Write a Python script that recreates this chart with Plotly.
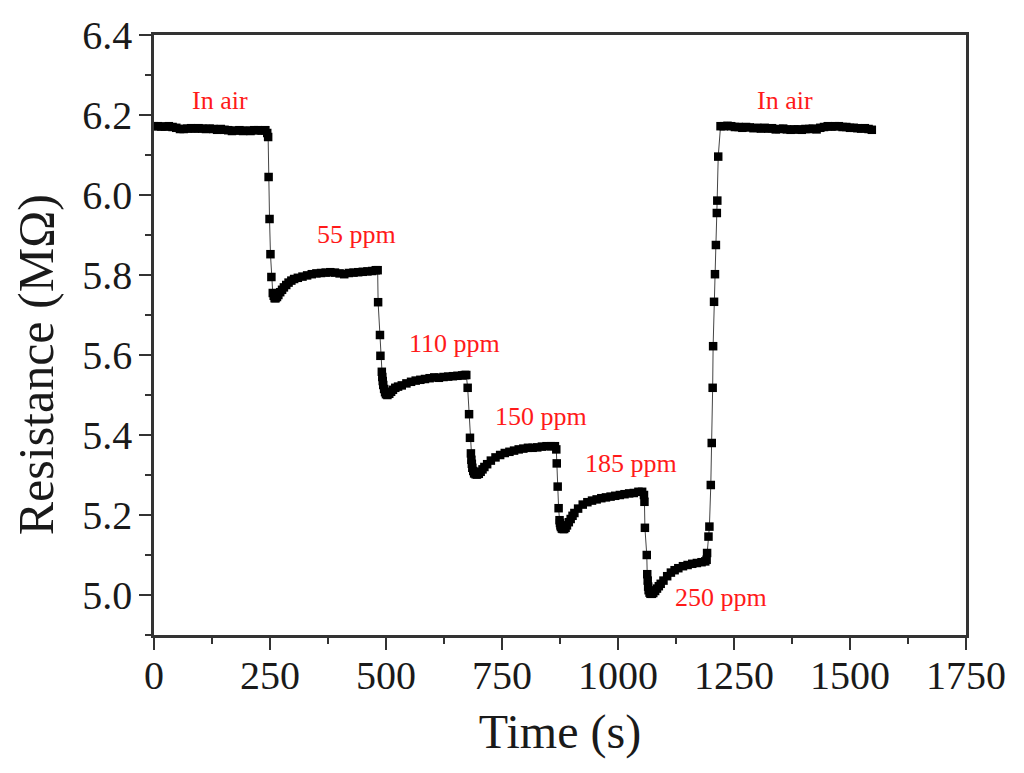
import plotly.graph_objects as go

# values, one pair of lists per stage
t_air1 = [0, 8, 16, 24, 32, 40, 48, 56, 64, 72, 80, 88, 96, 104, 112, 120, 128, 136, 144, 152, 160,
          168, 176, 184, 192, 200, 208, 216, 224, 232, 240, 244, 246]
r_air1 = [6.172, 6.172, 6.171, 6.171, 6.172, 6.170, 6.168, 6.165, 6.165, 6.166, 6.167, 6.166, 6.167,
          6.166, 6.165, 6.166, 6.165, 6.163, 6.165, 6.163, 6.162, 6.160, 6.161, 6.162, 6.160, 6.161,
          6.160, 6.162, 6.162, 6.161, 6.162, 6.155, 6.145]

t_55 = [247, 249, 251, 253, 256, 258, 260, 262, 265, 268, 272, 276, 280, 285, 290, 296, 302, 310, 320,
        330, 340, 350, 360, 370, 380, 390, 400, 410, 420, 430, 440, 450, 460, 470, 478, 482]
r_55 = [6.045, 5.94, 5.852, 5.795, 5.755, 5.748, 5.742, 5.742, 5.745, 5.750, 5.757, 5.763, 5.769, 5.775,
        5.781, 5.786, 5.790, 5.793, 5.796, 5.799, 5.802, 5.804, 5.805, 5.806, 5.807, 5.806, 5.804,
        5.802, 5.805, 5.806, 5.807, 5.808, 5.809, 5.810, 5.812, 5.812]

t_110 = [483, 487, 488, 491, 492, 493, 494, 496, 498, 500, 503, 507, 511, 515, 520, 526, 534, 544, 554,
         564, 574, 584, 594, 604, 614, 624, 634, 644, 654, 664, 670, 673]
r_110 = [5.732, 5.65, 5.598, 5.558, 5.545, 5.535, 5.525, 5.515, 5.507, 5.502, 5.500, 5.503, 5.508, 5.513,
         5.518, 5.521, 5.524, 5.529, 5.533, 5.536, 5.538, 5.540, 5.542, 5.544, 5.543, 5.545, 5.546,
         5.547, 5.548, 5.549, 5.550, 5.550]

t_150 = [676, 679, 681, 683, 684, 685, 686, 688, 690, 693, 696, 700, 704, 708, 712, 718, 726, 736, 746,
         756, 766, 776, 786, 796, 806, 816, 826, 836, 846, 856, 864, 867]
r_150 = [5.518, 5.452, 5.393, 5.354, 5.338, 5.328, 5.318, 5.310, 5.304, 5.302, 5.301, 5.303, 5.308, 5.314,
         5.320, 5.327, 5.336, 5.344, 5.350, 5.355, 5.358, 5.361, 5.364, 5.366, 5.368, 5.368, 5.369,
         5.371, 5.372, 5.372, 5.372, 5.364]

t_185 = [868, 870, 872, 874, 875, 876, 877, 879, 881, 884, 887, 890, 894, 898, 902, 906, 914, 924, 934,
         944, 954, 964, 974, 984, 994, 1004, 1014, 1024, 1034, 1044, 1052, 1056]
r_185 = [5.329, 5.271, 5.217, 5.187, 5.180, 5.174, 5.170, 5.166, 5.165, 5.165, 5.168, 5.174, 5.182, 5.190,
         5.198, 5.205, 5.216, 5.226, 5.232, 5.236, 5.239, 5.242, 5.244, 5.246, 5.248, 5.250, 5.252,
         5.254, 5.255, 5.258, 5.258, 5.250]

t_250 = [1057, 1058, 1062, 1063, 1064, 1065, 1066, 1068, 1070, 1073, 1076, 1080, 1084, 1088, 1092, 1098,
         1106, 1114, 1122, 1130, 1140, 1150, 1160, 1170, 1180, 1188, 1191]
r_250 = [5.233, 5.168, 5.10, 5.052, 5.036, 5.021, 5.012, 5.006, 5.003, 5.003, 5.005, 5.010, 5.016, 5.022,
         5.028, 5.036, 5.047, 5.056, 5.062, 5.067, 5.072, 5.075, 5.078, 5.080, 5.082, 5.084, 5.088]

t_rise = [1192, 1195, 1197, 1200, 1202, 1204, 1205, 1207, 1209, 1211, 1213, 1214, 1216]
r_rise = [5.105, 5.146, 5.171, 5.275, 5.38, 5.518, 5.622, 5.733, 5.802, 5.875, 5.955, 5.986, 6.096]

t_air2 = [1221, 1228, 1236, 1244, 1252, 1260, 1268, 1276, 1284, 1292, 1300, 1308, 1316, 1324, 1332, 1340,
          1348, 1356, 1364, 1372, 1380, 1388, 1396, 1404, 1412, 1420, 1428, 1436, 1444, 1452, 1460, 1468,
          1476, 1484, 1492, 1500, 1508, 1516, 1524, 1532, 1540, 1547]
r_air2 = [6.172, 6.172, 6.173, 6.172, 6.170, 6.170, 6.168, 6.170, 6.169, 6.167, 6.168, 6.166, 6.168,
          6.166, 6.167, 6.164, 6.165, 6.166, 6.164, 6.163, 6.164, 6.164, 6.163, 6.165, 6.165, 6.166,
          6.164, 6.168, 6.170, 6.172, 6.171, 6.172, 6.172, 6.170, 6.170, 6.168, 6.168, 6.167, 6.166,
          6.167, 6.165, 6.163]

time_s = t_air1 + t_55 + t_110 + t_150 + t_185 + t_250 + t_rise + t_air2
resistance = r_air1 + r_55 + r_110 + r_150 + r_185 + r_250 + r_rise + r_air2

note_text = ["In air", "55 ppm", "110 ppm", "150 ppm", "185 ppm", "250 ppm", "In air"]
note_t = [142, 437, 648, 834, 1028, 1222, 1360]
note_r = [6.2375, 5.9025, 5.63, 5.4475, 5.33, 4.995, 6.2375]

SERIF = "Liberation Serif"
INK = "#333333"
TEXT = "#1a1a1a"

fig = go.Figure()
fig.add_trace(go.Scatter(
    x=time_s, y=resistance, mode="lines+markers",
    line=dict(color="#444444", width=1),
    marker=dict(symbol="square", size=8.5, color="black"),
    showlegend=False,
))

for text, t, r in zip(note_text, note_t, note_r):
    fig.add_annotation(x=t, y=r, text=text, showarrow=False,
                       font=dict(family=SERIF, size=26, color="#ff1a1a"))

# y title sits lower than the middle of the axis, so it goes in by hand
fig.add_annotation(xref="paper", yref="paper", x=-0.145, y=0.45, textangle=-90,
                   xanchor="center", yanchor="middle",
                   text="Resistance (MΩ)", showarrow=False,
                   font=dict(family=SERIF, size=50, color=TEXT))

axis_style = dict(
    automargin=False,
    showgrid=False, zeroline=False, showline=True, mirror=True,
    linecolor=INK, linewidth=2.5,
    ticks="outside", ticklen=12, tickwidth=2, tickcolor=INK,
    tickfont=dict(family=SERIF, size=40, color=TEXT),
)

fig.update_xaxes(
    range=[0, 1750], tickvals=[0, 250, 500, 750, 1000, 1250, 1500, 1750],
    minor=dict(dtick=125, ticks="outside", ticklen=6, tickwidth=2, tickcolor=INK),
    ticklabelstandoff=-9,
    title=dict(text="Time (s)", font=dict(family=SERIF, size=48, color=TEXT), standoff=18),
    **axis_style,
)
fig.update_yaxes(
    range=[4.9, 6.4], tickvals=[5.0, 5.2, 5.4, 5.6, 5.8, 6.0, 6.2, 6.4], tickformat=".1f",
    minor=dict(dtick=0.1, ticks="outside", ticklen=6, tickwidth=2, tickcolor=INK),
    ticklabelstandoff=-1,
    **axis_style,
)

# page body adds 8px on the left and top
fig.update_layout(
    width=1024, height=773,
    margin=dict(l=146, r=66, t=27, b=146),
    paper_bgcolor="white", plot_bgcolor="white",
)

fig.write_html("out.html")
